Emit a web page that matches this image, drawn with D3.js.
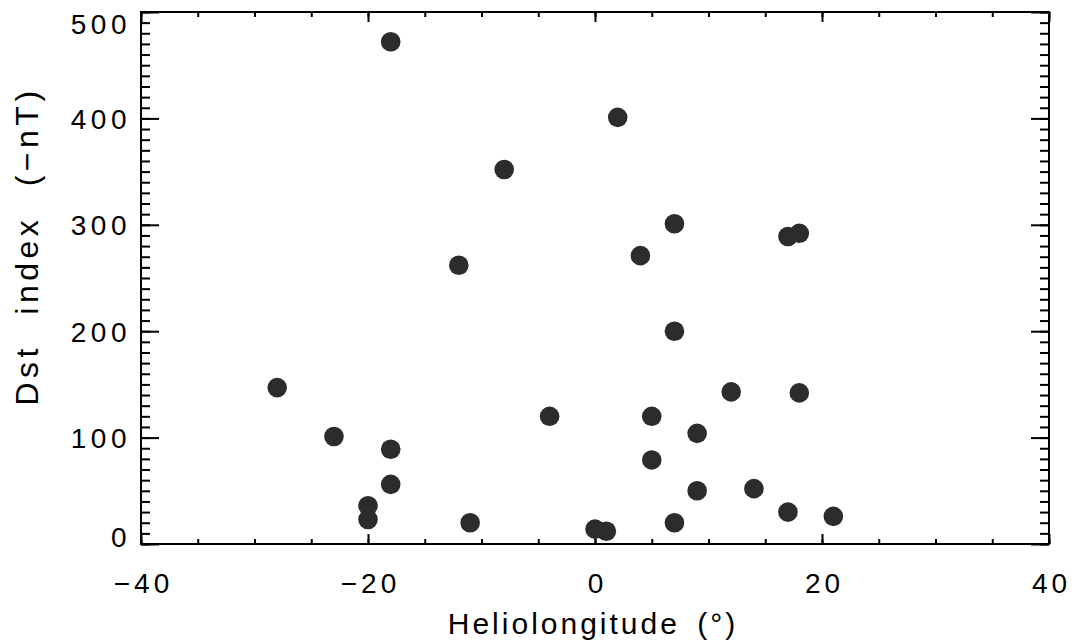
<!DOCTYPE html>
<html>
<head>
<meta charset="utf-8">
<script src="https://cdn.jsdelivr.net/npm/d3@7"></script>
<style>
  html, body { margin: 0; padding: 0; background: #fff; }
  svg { display: block; }
  text { font-family: "Liberation Sans", Arial, Helvetica, sans-serif; fill: #000; }
</style>
</head>
<body>
<svg id="chart" width="1075" height="642"></svg>
<script>
// ---- data ----
const heliolongitude = [-18, -8, -12, 2, 7, 4, 17, 18, -28, -23, -18, -18, -20, -20, -11, -4, 0, 1, 7, 12, 18, 5, 5, 9, 9, 14, 7, 17, 21];
const dstIndex      = [472, 352, 262, 401, 301, 271, 289, 292, 147, 101, 89, 56, 36, 23, 20, 120, 14, 12, 200, 143, 142, 120, 79, 104, 50, 52, 20, 30, 26];
const xMajorTicks = [-40, -20, 0, 20, 40];
const xMinorTicks = d3.range(-40, 41, 5);
const yMajorTicks = [0, 100, 200, 300, 400, 500];
const yMinorTicks = d3.range(0, 501, 10);
const xTitle = "Heliolongitude (\u00B0)";
const yTitle = "Dst index (\u2212nT)";

const points = heliolongitude.map((x, i) => ({ x, y: dstIndex[i] }));

// ---- layout ----
const margin = { left: 141, right: 26, top: 12, bottom: 98 };
const W = 1075, H = 642;
const iw = W - margin.left - margin.right;
const ih = H - margin.top - margin.bottom;

const svg = d3.select("#chart");
const g = svg.append("g").attr("transform", `translate(${margin.left},${margin.top})`);

const x = d3.scaleLinear().domain([-40, 40]).range([0, iw]);
const y = d3.scaleLinear().domain([0, 500]).range([ih, 0]);

const fmt = d => (d < 0 ? "\u2212" + Math.abs(d) : String(d));

function styleAxis(sel) {
  sel.select(".domain").remove();
  sel.selectAll(".tick line").attr("stroke", "#000").attr("stroke-width", 2);
}

// bottom axis
g.append("g").attr("transform", `translate(0,${ih})`)
  .call(d3.axisBottom(x).tickValues(xMinorTicks).tickSize(-5).tickFormat(""))
  .call(styleAxis);
const xb = g.append("g").attr("transform", `translate(0,${ih})`)
  .call(d3.axisBottom(x).tickValues(xMajorTicks).tickSize(-10).tickFormat(fmt))
  .call(styleAxis);
xb.selectAll(".tick text")
  .attr("y", 49).attr("dy", 0)
  .attr("dx", 2)
  .style("font-size", "28px").style("letter-spacing", "4px");

// top axis
g.append("g")
  .call(d3.axisTop(x).tickValues(xMinorTicks).tickSize(-5).tickFormat(""))
  .call(styleAxis);
g.append("g")
  .call(d3.axisTop(x).tickValues(xMajorTicks).tickSize(-10).tickFormat(""))
  .call(styleAxis);

// left axis
g.append("g")
  .call(d3.axisLeft(y).tickValues(yMinorTicks).tickSize(-9).tickFormat(""))
  .call(styleAxis);
const yl = g.append("g")
  .call(d3.axisLeft(y).tickValues(yMajorTicks).tickSize(-18).tickFormat(d3.format("d")))
  .call(styleAxis);
yl.selectAll(".tick text")
  .attr("x", -10).attr("dy", "0.36em")
  .style("font-size", "28px").style("letter-spacing", "4.5px")
  .attr("transform", d => d === 0 ? "translate(0,-8)" : d === 500 ? "translate(0,11)" : null);

// right axis
g.append("g").attr("transform", `translate(${iw},0)`)
  .call(d3.axisRight(y).tickValues(yMinorTicks).tickSize(-9).tickFormat(""))
  .call(styleAxis);
g.append("g").attr("transform", `translate(${iw},0)`)
  .call(d3.axisRight(y).tickValues(yMajorTicks).tickSize(-18).tickFormat(""))
  .call(styleAxis);

// frame
g.append("rect").attr("x", 0).attr("y", 0).attr("width", iw).attr("height", ih)
  .attr("fill", "none").attr("stroke", "#000").attr("stroke-width", 2);

// points
g.append("g").selectAll("circle").data(points).join("circle")
  .attr("cx", d => x(d.x)).attr("cy", d => y(d.y)).attr("r", 9.8)
  .attr("fill", "#2c2c2c");

// titles
svg.append("text")
  .attr("x", margin.left + x(0) - 2).attr("y", 634)
  .attr("text-anchor", "middle")
  .style("font-size", "30px").style("letter-spacing", "3px").style("word-spacing", "6px")
  .text(xTitle);

svg.append("text")
  .attr("transform", `translate(38,${246}) rotate(-90)`)
  .attr("text-anchor", "middle")
  .style("font-size", "32px").style("letter-spacing", "4.5px").style("word-spacing", "16px")
  .text(yTitle);
</script>
</body>
</html>
